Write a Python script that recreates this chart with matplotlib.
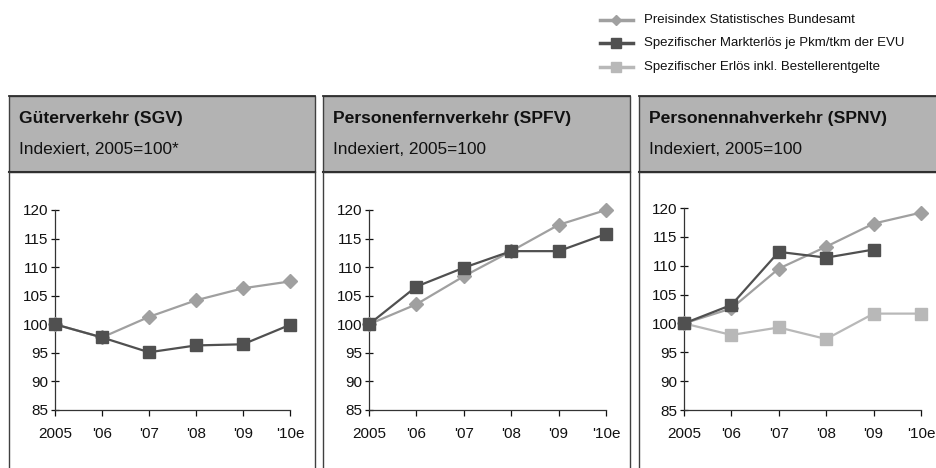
import matplotlib
matplotlib.use("Agg")
import matplotlib.pyplot as plt
from matplotlib.lines import Line2D
from matplotlib.patches import Rectangle

plt.rcParams['font.family'] = ['Liberation Sans', 'DejaVu Sans']

years = ["2005", "'06", "'07", "'08", "'09", "'10e"]
yticks = [85, 90, 95, 100, 105, 110, 115, 120]

titles = ["Güterverkehr (SGV)", "Personenfernverkehr (SPFV)", "Personennahverkehr (SPNV)"]
subtitles = ["Indexiert, 2005=100*", "Indexiert, 2005=100", "Indexiert, 2005=100"]

legend_labels = ["Preisindex Statistisches Bundesamt",
                 "Spezifischer Markterlös je Pkm/tkm der EVU",
                 "Spezifischer Erlös inkl. Bestellerentgelte"]

# SGV
sgv_preis = [100, 97.7, 101.3, 104.2, 106.3, 107.5]
sgv_markt = [100, 97.7, 95.1, 96.3, 96.5, 99.9]
# SPFV
spfv_preis = [100, 103.5, 108.4, 112.8, 117.4, 120.0]
spfv_markt = [100, 106.6, 109.9, 112.8, 112.8, 115.8]
# SPNV
spnv_preis = [100, 102.6, 109.5, 113.3, 117.3, 119.2]
spnv_markt = [100, 103.2, 112.4, 111.4, 112.8]
spnv_erloes = [100, 98.0, 99.3, 97.3, 101.7, 101.7]

c_preis = '#a0a0a0'
c_markt = '#505050'
c_erloes = '#b8b8b8'
header_fill = '#b3b3b3'
border = '#404040'

W, H = 937, 468
fig = plt.figure(figsize=(W / 100, H / 100), dpi=100)

# overlay axes in pixel coordinates for panel boxes and legend
ov = fig.add_axes([0, 0, 1, 1])
ov.set_xlim(0, W)
ov.set_ylim(H, 0)
ov.axis('off')

panels_x = [(9, 315), (323, 630), (639, 945)]
for (x0, x1), t, s in zip(panels_x, titles, subtitles):
    ov.add_patch(Rectangle((x0, 96), x1 - x0, 76, facecolor=header_fill,
                           edgecolor=border, lw=1.0, zorder=1))
    ov.plot([x0, x1], [96, 96], color='#303030', lw=1.3, zorder=2)
    ov.plot([x0, x1], [172, 172], color='#303030', lw=1.5, zorder=2)
    ov.plot([x0, x0], [172, H + 5], color=border, lw=1.0, zorder=2)
    ov.plot([x1, x1], [172, H + 5], color=border, lw=1.0, zorder=2)
    ov.text(x0 + 10, 118, t, fontsize=12.6, fontweight='bold', va='center', ha='left', color='#111111')
    ov.text(x0 + 10, 150, s, fontsize=12.4, va='center', ha='left', color='#111111')

# legend
leg_styles = [(c_preis, 'D', 5.5), (c_markt, 's', 7), (c_erloes, 's', 7)]
for i, (lab, (c, m, ms)) in enumerate(zip(legend_labels, leg_styles)):
    yy = [20, 43, 67][i]
    ov.add_line(Line2D([600, 633], [yy, yy], color=c, lw=2.5, marker=None))
    ov.add_line(Line2D([616.5], [yy], color=c, marker=m, markersize=ms, lw=0))
    ov.text(644, yy, lab, fontsize=9.5, va='center', ha='left', color='#111111')

axes_px = [(55, 290, 210, 410), (369, 606, 210, 410), (684, 921, 208, 410)]
series_sets = [
    [(sgv_preis, c_preis, 'D', 7), (sgv_markt, c_markt, 's', 8)],
    [(spfv_preis, c_preis, 'D', 7), (spfv_markt, c_markt, 's', 8)],
    [(spnv_erloes, c_erloes, 's', 8), (spnv_preis, c_preis, 'D', 7), (spnv_markt, c_markt, 's', 8)],
]

for (x0, x1, ytop, ybot), sers in zip(axes_px, series_sets):
    ax = fig.add_axes([x0 / W, (H - ybot) / H, (x1 - x0) / W, (ybot - ytop) / H])
    ax.patch.set_alpha(0)
    for vals, c, m, ms in sers:
        ax.plot(range(len(vals)), vals, color=c, marker=m, markersize=ms, lw=1.6,
                clip_on=False, zorder=3)
    ax.set_xlim(0, 5)
    ax.set_ylim(85, 120)
    ax.set_yticks(yticks)
    ax.set_xticks(range(len(years)))
    ax.set_xticklabels(years)
    for sp in ['top', 'right']:
        ax.spines[sp].set_visible(False)
    for sp in ['left', 'bottom']:
        ax.spines[sp].set_color('#333333')
        ax.spines[sp].set_linewidth(0.9)
    ax.tick_params(axis='y', direction='inout', length=6, width=0.9, labelsize=11, pad=2, colors='#111111')
    ax.tick_params(axis='x', direction='out', length=4, width=0.9, labelsize=11, pad=8, colors='#111111')

fig.savefig('out.png', dpi=100)
